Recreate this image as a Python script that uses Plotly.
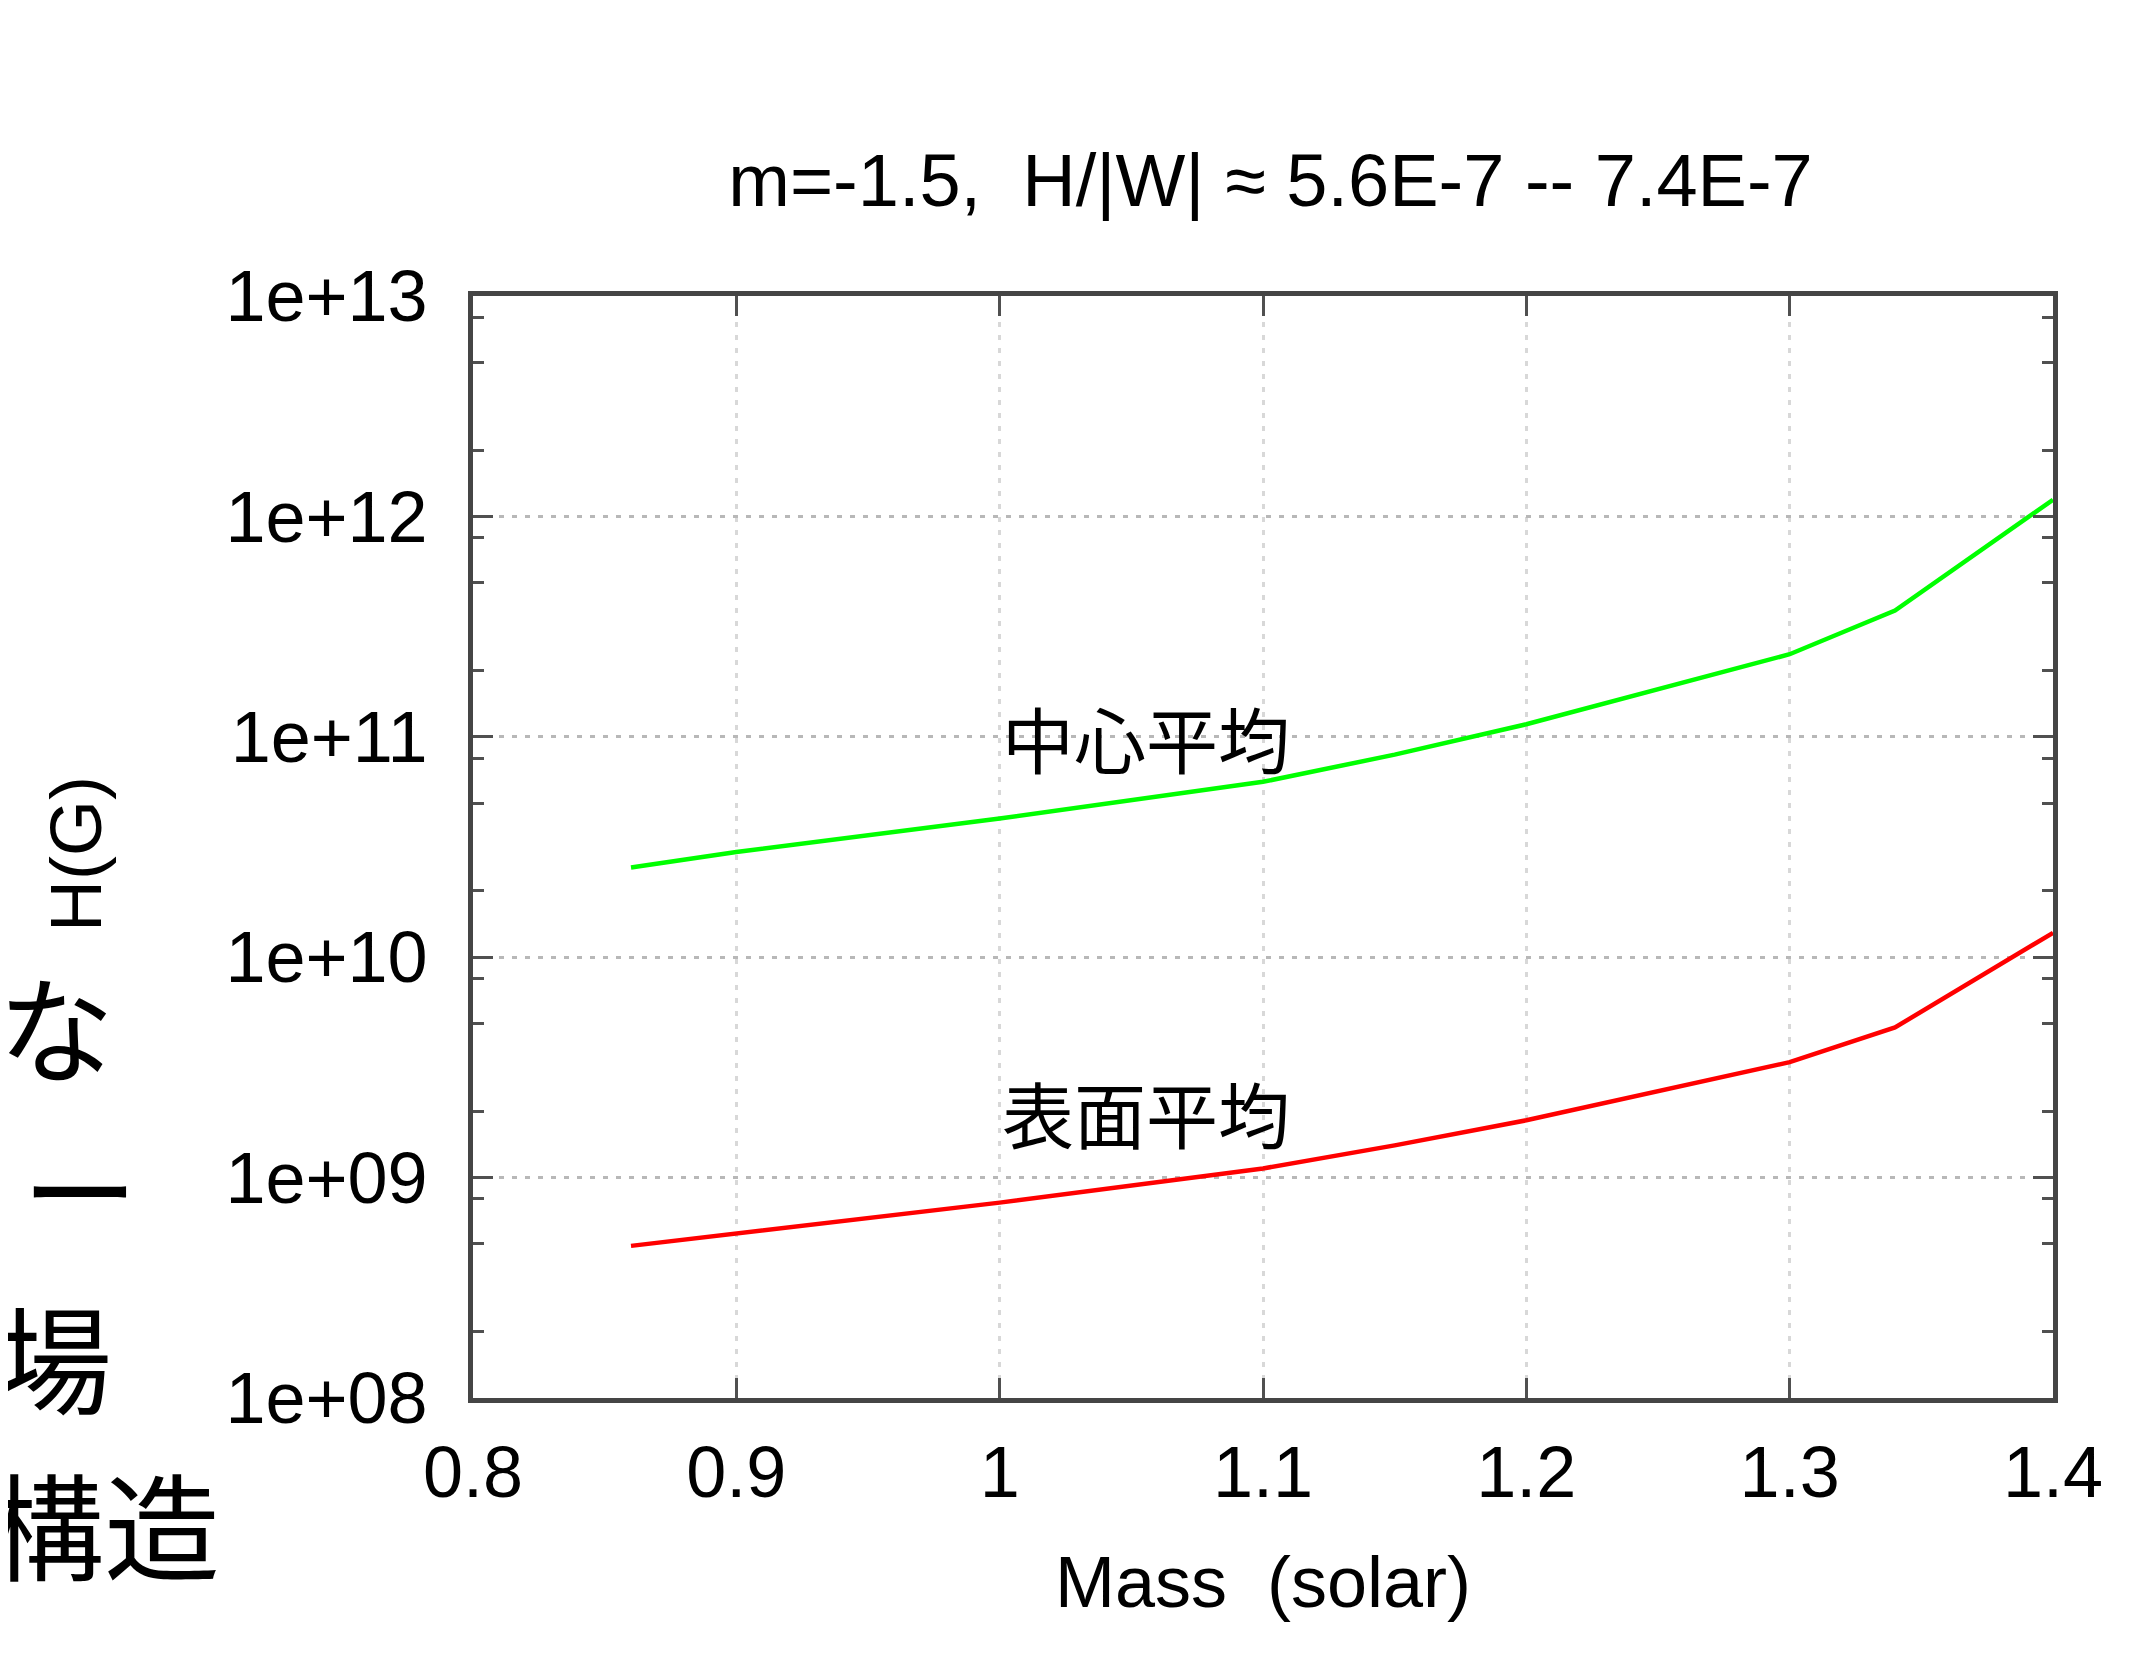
import math
import plotly.graph_objects as go

# ---- data ----
mass = [0.86, 0.90, 1.00, 1.10, 1.15, 1.20, 1.30, 1.34, 1.40]
h_center = [2.55e10, 3.0e10, 4.26e10, 6.25e10, 8.3e10, 1.14e11, 2.37e11, 3.74e11, 1.19e12]
h_surface = [4.9e8, 5.56e8, 7.7e8, 1.1e9, 1.4e9, 1.82e9, 3.34e9, 4.8e9, 1.29e10]

label_center = "中心平均"
label_surface = "表面平均"
label_center_pos = (1.0, 1e11)
label_surface_pos = (1.0, 2e9)

x_ticks = [0.8, 0.9, 1.0, 1.1, 1.2, 1.3, 1.4]
x_tick_labels = ["0.8", "0.9", "1", "1.1", "1.2", "1.3", "1.4"]
y_ticks = [1e8, 1e9, 1e10, 1e11, 1e12, 1e13]
y_tick_labels = ["1e+08", "1e+09", "1e+10", "1e+11", "1e+12", "1e+13"]
y_minor = [m * 10 ** k for k in range(8, 13) for m in (2, 5, 8)]

title_text = "m=-1.5,  H/|W| ≈ 5.6E-7 -- 7.4E-7"
x_title = "Mass  (solar)"

# cut-off left-hand label fragments (text, x_px, y_px, angle, size)
side_bits = [
    ("H(G)", 68, 846, -90, 72),
    ("な", 48, 1015, 0, 116),
    ("ー", 72, 1177, 0, 116),
    ("場", 46, 1346, 0, 116),
    ("構造", 96, 1513, 0, 116),
]

W, H = 2151, 1676
L, R, T, B = 465, 2045, 288, 1390
# reference pixel frame used for placing the title
RL, RR = 470, 2055

FONT = "Liberation Sans, Arial, sans-serif"
CJK = "Noto Sans CJK JP, Noto Sans CJK SC, sans-serif"

fig = go.Figure()
fig.add_trace(go.Scatter(x=mass, y=h_center, mode="lines",
                         line=dict(color="#00ff00", width=4.5), showlegend=False))
fig.add_trace(go.Scatter(x=mass, y=h_surface, mode="lines",
                         line=dict(color="#ff0000", width=4.5), showlegend=False))

annotations = [
    dict(x=label_center_pos[0], y=math.log10(label_center_pos[1]),
         xref="x", yref="y", text=label_center, showarrow=False,
         xanchor="left", yanchor="middle", font=dict(family=CJK, size=72, color="black")),
    dict(x=label_surface_pos[0], y=math.log10(label_surface_pos[1]),
         xref="x", yref="y", text=label_surface, showarrow=False,
         xanchor="left", yanchor="middle", font=dict(family=CJK, size=72, color="black")),
]
for txt, px, py, ang, sz in side_bits:
    annotations.append(dict(
        x=(px - L) / (R - L), y=(B - py) / (B - T), xref="paper", yref="paper",
        text=txt, showarrow=False, textangle=ang, xanchor="center", yanchor="middle",
        font=dict(family=CJK if ang == 0 else FONT, size=sz, color="black")))

fig.update_layout(
    width=W, height=H,
    margin=dict(l=L, r=W - R, t=T, b=H - B),
    paper_bgcolor="white", plot_bgcolor="white",
    font=dict(family=FONT, size=72, color="black"),
    title=dict(text=title_text, x=(RL + RR) / 2 / W, xanchor="center",
               y=1 - 172 / H, yanchor="middle", xref="container", yref="container",
               font=dict(family=FONT, size=74, color="black")),
    annotations=annotations,
    xaxis=dict(
        range=[0.8, 1.4], tickmode="array", tickvals=x_ticks, ticktext=x_tick_labels,
        showline=True, linecolor="#454545", linewidth=5, mirror="ticks",
        ticks="inside", ticklen=20, tickwidth=3, tickcolor="#505050",
        showgrid=True, gridcolor="#d8d8d8", gridwidth=3, griddash="5px,8px",
        zeroline=False, ticklabelstandoff=8,
        title=dict(text=x_title, standoff=47, font=dict(family=FONT, size=72)),
        tickfont=dict(family=FONT, size=72, color="black"),
    ),
    yaxis=dict(
        type="log", range=[8, 13], tickmode="array", tickvals=y_ticks, ticktext=y_tick_labels,
        showline=True, linecolor="#454545", linewidth=5, mirror="ticks",
        ticks="inside", ticklen=20, tickwidth=3, tickcolor="#505050",
        showgrid=True, gridcolor="#b8b8b8", gridwidth=3, griddash="5px,8px",
        zeroline=False, ticklabelstandoff=26,
        minor=dict(tickmode="array", tickvals=y_minor, ticks="inside", ticklen=11,
                   tickwidth=3, tickcolor="#505050", showgrid=False),
        tickfont=dict(family=FONT, size=72, color="black"),
    ),
)

fig.write_html("out.html")
